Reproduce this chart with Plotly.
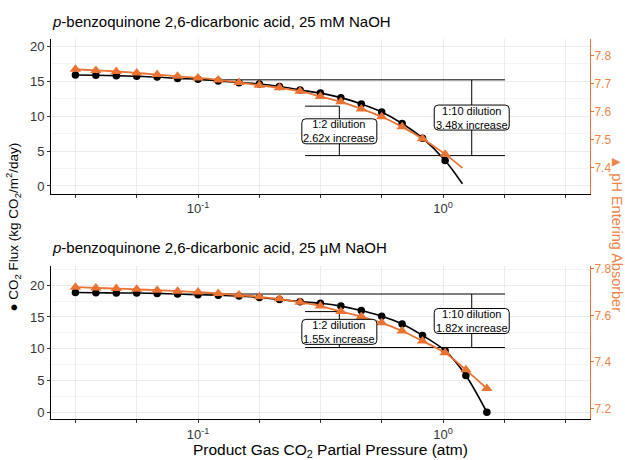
import math
import plotly.graph_objects as go

# ---------------- data ----------------
pressure_top = [0.0316, 0.0383, 0.0464, 0.0562, 0.0681, 0.0825, 0.100, 0.121, 0.147, 0.178,
                0.215, 0.261, 0.316, 0.383, 0.464, 0.562, 0.681, 0.825, 1.02]
flux_top = [15.9, 15.85, 15.8, 15.7, 15.6, 15.4, 15.3, 15.05, 14.8, 14.6,
            14.25, 13.75, 13.3, 12.65, 11.75, 10.6, 8.95, 6.85, 3.65]
ph_top = [7.751, 7.747, 7.743, 7.738, 7.732, 7.726, 7.720, 7.713, 7.704, 7.694,
          7.685, 7.673, 7.654, 7.635, 7.610, 7.582, 7.546, 7.504, 7.449]
fit_end_pressure_top = 1.2
fit_end_flux_top = 0.33
fit_end_ph_top = 7.40

pressure_bot = [0.0316, 0.0383, 0.0464, 0.0562, 0.0681, 0.0825, 0.100, 0.121, 0.147, 0.178,
                0.215, 0.261, 0.316, 0.383, 0.464, 0.562, 0.681, 0.825, 1.02, 1.24, 1.51]
flux_bot = [18.85, 18.8, 18.75, 18.75, 18.7, 18.6, 18.5, 18.4, 18.3, 18.05,
            17.75, 17.4, 17.15, 16.7, 16.0, 15.1, 13.9, 12.1, 9.7, 5.8, 0.05]
ph_bot = [7.721, 7.718, 7.715, 7.712, 7.708, 7.704, 7.700, 7.694, 7.687, 7.680,
          7.671, 7.656, 7.640, 7.617, 7.595, 7.568, 7.533, 7.490, 7.439, 7.366, 7.286]

# dilution reference levels (flux) and segment x-extents (atm)
ref_top = {"hi": 15.2, "mid": 11.43, "lo": 4.35}
ref_bot = {"hi": 18.6, "mid": 15.84, "lo": 10.2}
seg_hi_x = [0.1, 1.79]
seg_mid_x = [0.2735, 0.3775]
seg_lo_x = [0.2735, 1.79]
vline_12_x = 0.3775
vline_110_x = 1.31

labels_top = [("1:2 dilution<br>2.62x increase", 0.3775, 7.83),
              ("1:10 dilution<br>3.48x increase", 1.31, 9.8)]
labels_bot = [("1:2 dilution<br>1.55x increase", 0.3775, 12.66),
              ("1:10 dilution<br>1.82x increase", 1.31, 14.36)]

x_break_exponents = [-1.5, -1.25, -1.0, -0.75, -0.5, -0.25, 0.0, 0.25, 0.5]
x_break_labels = ["", "", "10<sup>-1</sup>", "", "", "", "10<sup>0</sup>", "", ""]

titles = ["<i>p</i>-benzoquinone 2,6-dicarbonic acid, 25 mM NaOH",
          "<i>p</i>-benzoquinone 2,6-dicarbonic acid, 25 \u00b5M NaOH"]

# ---------------- style ----------------
W, H = 625, 460
ORANGE = "#EA7232"
ORANGE_TXT = "#EE8447"
FONT = "Liberation Sans, Arial, sans-serif"
GRID = "#EBEBEB"
GRID_MINOR = "#F4F4F4"
TXT = "#333333"
BOX_W, BOX_H, BOX_R = 75, 25, 4

def px_x(p):
    return p / W

def px_y(p):
    return 1 - p / H

x_dom = [px_x(51), px_x(590)]
top_dom = [px_y(191.7), px_y(35)]
bot_dom = [px_y(420), px_y(265)]

fig = go.Figure()

def rounded_box_path(w, h, r):
    x0, x1, y0, y1 = -w / 2, w / 2, -h / 2, h / 2
    return (f"M{x0 + r},{y0} L{x1 - r},{y0} Q{x1},{y0} {x1},{y0 + r} "
            f"L{x1},{y1 - r} Q{x1},{y1} {x1 - r},{y1} L{x0 + r},{y1} "
            f"Q{x0},{y1} {x0},{y1 - r} L{x0},{y0 + r} Q{x0},{y0} {x0 + r},{y0} Z")

def add_panel(xa, ya, ya2, pressure, flux, ph, ref, labels, fit_end=None):
    lx_f, ly_f, ly_p = list(pressure), list(flux), list(ph)
    if fit_end is not None:
        lx_f = lx_f + [fit_end[0]]
        ly_f = ly_f + [fit_end[1]]
        ly_p = ly_p + [fit_end[2]]
    segs = [
        (seg_hi_x, [ref["hi"], ref["hi"]]),
        (seg_mid_x, [ref["mid"], ref["mid"]]),
        (seg_lo_x, [ref["lo"], ref["lo"]]),
        ([vline_12_x, vline_12_x], [ref["mid"], ref["lo"]]),
        ([vline_110_x, vline_110_x], [ref["hi"], ref["lo"]]),
    ]
    for sx, sy in segs:
        fig.add_trace(go.Scatter(x=sx, y=sy, mode="lines", xaxis=xa, yaxis=ya,
                                 line=dict(color="black", width=1), showlegend=False,
                                 hoverinfo="skip"))
    fig.add_trace(go.Scatter(x=lx_f, y=ly_f, mode="lines", xaxis=xa, yaxis=ya,
                             line=dict(color="black", width=1.6, shape="spline", smoothing=0.8),
                             showlegend=False))
    fig.add_trace(go.Scatter(x=pressure, y=flux, mode="markers", xaxis=xa, yaxis=ya,
                             marker=dict(color="black", size=7.5, symbol="circle"),
                             showlegend=False))
    fig.add_trace(go.Scatter(x=lx_f, y=ly_p, mode="lines", xaxis=xa, yaxis=ya2,
                             line=dict(color=ORANGE, width=1.8, shape="spline", smoothing=0.8),
                             showlegend=False))
    fig.add_trace(go.Scatter(x=pressure, y=ph, mode="markers", xaxis=xa, yaxis=ya2,
                             marker=dict(color=ORANGE, size=10, symbol="triangle-up"),
                             showlegend=False))
    for text, lx, ly in labels:
        fig.add_shape(type="path", xref=xa, yref=ya, xsizemode="pixel", ysizemode="pixel",
                      xanchor=lx, yanchor=ly, path=rounded_box_path(BOX_W, BOX_H, BOX_R),
                      fillcolor="white", line=dict(color="black", width=1), layer="above")
        fig.add_annotation(x=math.log10(lx), y=ly, xref=xa, yref=ya, text=text,
                           showarrow=False, xanchor="center", yanchor="middle",
                           font=dict(family=FONT, size=11, color="black"))

add_panel("x", "y", "y2", pressure_top, flux_top, ph_top, ref_top, labels_top,
          (fit_end_pressure_top, fit_end_flux_top, fit_end_ph_top))
add_panel("x2", "y3", "y4", pressure_bot, flux_bot, ph_bot, ref_bot, labels_bot)

x_tickvals = [10 ** e for e in x_break_exponents]

def xaxis_cfg(anchor):
    return dict(type="log", domain=x_dom, anchor=anchor, range=[-1.6, 0.6],
                tickvals=x_tickvals, ticktext=x_break_labels,
                showgrid=True, gridcolor=GRID, gridwidth=1, zeroline=False,
                showline=True, linecolor="black", linewidth=1,
                ticks="outside", ticklen=3, tickcolor=TXT, tickwidth=1,
                tickfont=dict(family=FONT, size=13, color=TXT))

def yaxis_cfg(dom, rng, anchor):
    return dict(domain=dom, anchor=anchor, range=rng, tickvals=[0, 5, 10, 15, 20],
                showgrid=True, gridcolor=GRID, gridwidth=1, zeroline=False,
                minor=dict(tickvals=[2.5, 7.5, 12.5, 17.5, 22.5], showgrid=True,
                           gridcolor=GRID_MINOR, gridwidth=1, ticklen=0),
                showline=True, linecolor="black", linewidth=1,
                ticks="outside", ticklen=3, tickcolor=TXT, tickwidth=1,
                tickfont=dict(family=FONT, size=13, color=TXT))

def yaxis_right_cfg(overlay, anchor, rng, tv):
    return dict(overlaying=overlay, side="right", anchor=anchor, range=rng, tickvals=tv,
                showgrid=False, zeroline=False, showline=True, linecolor=ORANGE,
                linewidth=1, ticks="outside", ticklen=3, tickcolor=ORANGE,
                tickformat=".1f", ticklabelstandoff=-2,
                tickfont=dict(family=FONT, size=12, color=ORANGE_TXT))

fig.update_layout(
    width=W, height=H, autosize=False,
    margin=dict(l=0, r=0, t=0, b=0),
    paper_bgcolor="white", plot_bgcolor="white",
    xaxis=xaxis_cfg("y"),
    xaxis2=xaxis_cfg("y3"),
    yaxis=yaxis_cfg(top_dom, [-1.09, 21.1], "x"),
    yaxis2=yaxis_right_cfg("y", "x", [7.3085, 7.86], [7.4, 7.5, 7.6, 7.7, 7.8]),
    yaxis3=yaxis_cfg(bot_dom, [-1.09, 22.98], "x2"),
    yaxis4=yaxis_right_cfg("y3", "x2", [7.153, 7.8115], [7.2, 7.4, 7.6, 7.8]),
    font=dict(family=FONT),
)

fig.add_annotation(x=px_x(50), y=px_y(18), xref="paper", yref="paper", text=titles[0],
                   showarrow=False, xanchor="left", yanchor="middle",
                   font=dict(family=FONT, size=15, color="black"))
fig.add_annotation(x=px_x(50), y=px_y(246), xref="paper", yref="paper", text=titles[1],
                   showarrow=False, xanchor="left", yanchor="middle",
                   font=dict(family=FONT, size=15, color="black"))
fig.add_annotation(x=px_x(330), y=px_y(451.5), xref="paper", yref="paper",
                   text="Product Gas CO<sub>2</sub> Partial Pressure (atm)",
                   showarrow=False, xanchor="center", yanchor="middle",
                   font=dict(family=FONT, size=15.5, color="black"))
fig.add_annotation(x=px_x(13), y=px_y(226), xref="paper", yref="paper",
                   text="\u25cf CO<sub>2</sub> Flux (kg CO<sub>2</sub>/m<sup>2</sup>/day)",
                   showarrow=False, textangle=-90, xanchor="center", yanchor="middle",
                   font=dict(family=FONT, size=13.5, color="black"))
fig.add_annotation(x=px_x(616.5), y=px_y(232), xref="paper", yref="paper",
                   text="\u25b2 pH Entering Absorber",
                   showarrow=False, textangle=90, xanchor="center", yanchor="middle",
                   font=dict(family=FONT, size=14.5, color=ORANGE_TXT))

fig.write_html("out.html", config={"displayModeBar": False},
               post_script="document.body.style.margin='0px';document.body.style.padding='0px';")
